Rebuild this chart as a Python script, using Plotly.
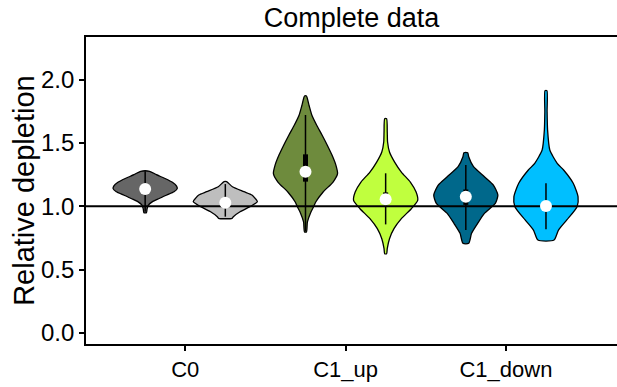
import plotly.graph_objects as go

# ---- data -------------------------------------------------------------
categories = ["C0", "C1_up", "C1_down"]
groups = ["ctrl", "treat"]

# density outlines: response levels and relative density (max = 1)
c0_ctrl_level = [0.949, 0.98, 1.01, 1.035, 1.06, 1.09, 1.115, 1.14, 1.16, 1.19, 1.22, 1.25, 1.277]
c0_ctrl_dens = [0.04, 0.06, 0.10, 0.22, 0.42, 0.68, 0.90, 1.0, 0.98, 0.85, 0.62, 0.35, 0.14]

c0_treat_level = [0.905, 0.918, 0.957, 0.997, 1.037, 1.063, 1.089, 1.116, 1.155, 1.195]
c0_treat_dens = [0.21, 0.25, 0.46, 0.77, 1.0, 0.93, 0.83, 0.58, 0.22, 0.04]

c1up_ctrl_level = [0.797, 0.876, 0.955, 1.0, 1.034, 1.113, 1.192, 1.258, 1.324, 1.403,
                   1.483, 1.562, 1.641, 1.72, 1.799, 1.873]
c1up_ctrl_dens = [0.03, 0.06, 0.17, 0.26, 0.32, 0.55, 0.86, 1.0, 0.95, 0.83,
                  0.68, 0.52, 0.35, 0.20, 0.11, 0.03]

c1up_treat_level = [0.625, 0.665, 0.744, 0.823, 0.902, 0.981, 1.047, 1.113, 1.192, 1.271,
                    1.35, 1.43, 1.509, 1.588, 1.693]
c1up_treat_dens = [0.03, 0.05, 0.12, 0.26, 0.49, 0.80, 1.0, 0.95, 0.77, 0.49,
                   0.28, 0.12, 0.06, 0.05, 0.03]

c1down_ctrl_level = [0.707, 0.786, 0.865, 0.944, 1.023, 1.089, 1.168, 1.234, 1.313, 1.392, 1.424]
c1down_ctrl_dens = [0.09, 0.18, 0.37, 0.58, 0.92, 1.0, 0.86, 0.58, 0.24, 0.09, 0.06]

c1down_treat_level = [0.733, 0.812, 0.892, 0.997, 1.076, 1.182, 1.287, 1.34, 1.445, 1.604, 1.75, 1.915]
c1down_treat_dens = [0.25, 0.39, 0.65, 0.97, 1.0, 0.85, 0.55, 0.35, 0.12, 0.05, 0.035, 0.03]

# summary statistics, ordered C0 ctrl/treat, C1_up ctrl/treat, C1_down ctrl/treat
medians = [1.137, 1.029, 1.274, 1.055, 1.076, 1.002]
q1 = [1.10, 0.99, 1.195, 1.015, 1.011, 0.97]
q3 = [1.17, 1.06, 1.411, 1.11, 1.133, 1.04]
whisker_lo = [0.957, 0.918, 0.80, 0.857, 0.812, 0.818]
whisker_hi = [1.277, 1.176, 1.722, 1.261, 1.327, 1.182]

reference_level = 1.0

# ---- styling ----------------------------------------------------------
fills = ["#666666", "#BEBEBE", "#6E8B3D", "#C0FF3E", "#00688B", "#00BFFF"]
dodge = 0.25
half_width = 0.2
x_range = [-0.619, 2.693]
y_range = [-0.089, 2.339]
font = "Liberation Sans, Arial, sans-serif"

levels = [c0_ctrl_level, c0_treat_level, c1up_ctrl_level,
          c1up_treat_level, c1down_ctrl_level, c1down_treat_level]
densities = [c0_ctrl_dens, c0_treat_dens, c1up_ctrl_dens,
             c1up_treat_dens, c1down_ctrl_dens, c1down_treat_dens]

positions = []
for ci, _ in enumerate(categories):
    for gi, _ in enumerate(groups):
        positions.append(ci + (-dodge if gi == 0 else dodge))

fig = go.Figure()

# violin bodies
for pos, lev, dens, col in zip(positions, levels, densities, fills):
    xs = [pos + d * half_width for d in dens] + [pos - d * half_width for d in reversed(dens)]
    ys = list(lev) + list(reversed(lev))
    fig.add_trace(go.Scatter(
        x=xs + [xs[0]], y=ys + [ys[0]], mode="lines", fill="toself",
        fillcolor=col, line=dict(color="black", width=1.3, shape="spline", smoothing=0.6),
        hoverinfo="skip", showlegend=False))

# reference line
fig.add_trace(go.Scatter(
    x=x_range, y=[reference_level, reference_level], mode="lines",
    line=dict(color="black", width=2), hoverinfo="skip", showlegend=False))

# whiskers
wx, wy = [], []
for pos, lo, hi in zip(positions, whisker_lo, whisker_hi):
    wx += [pos, pos, None]
    wy += [lo, hi, None]
fig.add_trace(go.Scatter(x=wx, y=wy, mode="lines",
                         line=dict(color="black", width=1.5),
                         hoverinfo="skip", showlegend=False))

# interquartile boxes
bx, by = [], []
for pos, a, b in zip(positions, q1, q3):
    bx += [pos, pos, None]
    by += [a, b, None]
fig.add_trace(go.Scatter(x=bx, y=by, mode="lines",
                         line=dict(color="black", width=5),
                         hoverinfo="skip", showlegend=False))

# medians
fig.add_trace(go.Scatter(x=positions, y=medians, mode="markers",
                         marker=dict(color="white", size=12, line=dict(width=0)),
                         hoverinfo="skip", showlegend=False))

fig.update_layout(
    width=617, height=387,
    margin=dict(l=86, r=0, t=37, b=43),
    plot_bgcolor="white", paper_bgcolor="white",
    font=dict(family=font, color="black"),
    title=dict(text="Complete data", x=0.5, xanchor="center", xref="paper",
               y=0.955, yref="container", yanchor="middle",
               font=dict(size=27, family=font, color="black")),
    xaxis=dict(range=x_range, tickmode="array", tickvals=list(range(len(categories))),
               ticktext=categories, showgrid=False, zeroline=False,
               showline=True, mirror=True, linecolor="black", linewidth=1.8,
               ticks="outside", ticklen=5, tickwidth=1.5, tickcolor="black",
               tickfont=dict(size=22, color="black")),
    yaxis=dict(range=y_range, tickmode="array", tickvals=[0, 0.5, 1.0, 1.5, 2.0],
               tickformat=".1f", showgrid=False, zeroline=False,
               showline=True, linecolor="black", linewidth=1.8,
               ticks="outside", ticklen=5, tickwidth=1.5, tickcolor="black",
               tickfont=dict(size=24, color="black")),
    annotations=[dict(text="Relative depletion", textangle=-90,
                      x=-0.118, y=0.5, xref="paper", yref="paper",
                      xanchor="center", yanchor="middle", showarrow=False,
                      font=dict(size=29, family=font, color="black"))],
)

fig.write_html("out.html")
